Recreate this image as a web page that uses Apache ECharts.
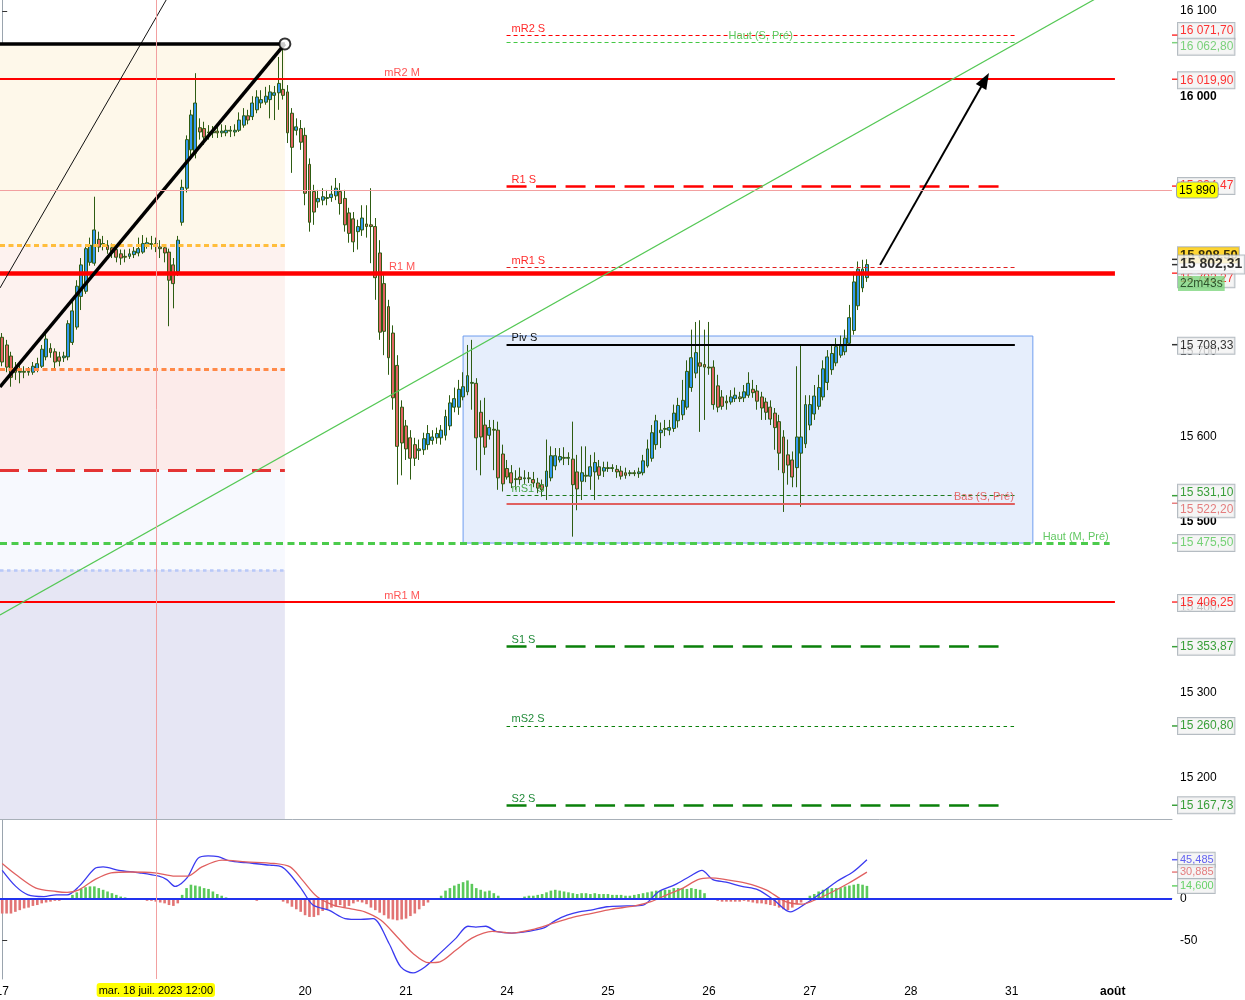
<!DOCTYPE html>
<html><head><meta charset="utf-8">
<script src="https://cdn.jsdelivr.net/npm/echarts@6/dist/echarts.min.js"></script>
<style>html,body{margin:0;padding:0;background:#fff;}#c{width:1245px;height:1000px;}</style>
</head><body><div id="c"></div>
<script>
// ---------- DATA ----------
const dayLabels = ['17','18','19','20','21','24','25','26','27','28','31','août'];
const candlesPerDay = 23;
const slotCount = 267;
// [open, close, low, high] hourly candles, 17 -> 27 juil.
const candles = [
[15717,15688,15683,15722],[15708,15682,15676,15714],[15695,15670,15659,15700],[15679,15676,15667,15688],[15676,15677,15663,15686],[15677,15676,15669,15683],[15676,15677,15672,15682],[15676,15683,15673,15688],[15680,15686,15676,15693],[15683,15703,15681,15708],[15694,15715,15690,15726],[15704,15699,15693,15710],[15700,15688,15681,15704],[15694,15689,15683,15700],[15693,15695,15688,15700],[15694,15733,15690,15737],[15711,15748,15708,15761],[15729,15777,15726,15784],[15765,15802,15749,15810],[15771,15821,15768,15825],[15805,15825,15801,15834],[15804,15843,15801,15882],[15832,15823,15817,15841],
[15826,15827,15819,15836],[15825,15820,15815,15831],[15822,15817,15810,15827],[15820,15811,15805,15824],[15815,15810,15802,15820],[15812,15811,15805,15820],[15812,15815,15809,15821],[15814,15818,15810,15823],[15816,15821,15812,15834],[15817,15827,15815,15837],[15825,15828,15821,15834],[15827,15826,15820,15836],[15827,15824,15817,15834],[15823,15821,15810,15831],[15822,15816,15805,15825],[15817,15784,15730,15821],[15802,15780,15751,15810],[15794,15831,15789,15836],[15852,15893,15848,15902],[15892,15949,15887,15954],[15937,15978,15925,15984],[15933,15992,15927,16027],[15963,15958,15949,15974],
[15962,15952,15943,15970],[15958,15957,15949,15966],[15957,15958,15951,15965],[15959,15957,15951,15964],[15957,15959,15952,15967],[15957,15960,15953,15966],[15959,15960,15952,15965],[15958,15960,15953,15967],[15960,15972,15958,15981],[15966,15977,15963,15986],[15977,15972,15967,15984],[15976,15992,15972,16000],[15984,15999,15980,16007],[15992,15996,15986,16007],[15993,16000,15990,16011],[15996,16005,15974,16013],[16001,16004,15972,16012],[16004,16015,15984,16046],[16008,16001,15996,16062],[16005,15957,15945,16013],[15980,15940,15910,15986],[15960,15964,15954,15974],[15962,15946,15937,15972],
[15954,15886,15872,15963],[15920,15852,15841,15927],[15888,15864,15849,15896],[15876,15880,15869,15890],[15878,15882,15872,15892],[15880,15881,15872,15890],[15881,15885,15876,15895],[15883,15892,15878,15904],[15888,15874,15861,15898],[15880,15849,15841,15890],[15863,15839,15828,15869],[15856,15829,15817,15864],[15841,15847,15820,15855],[15843,15857,15836,15872],[15850,15847,15834,15872],[15849,15847,15804,15892],[15847,15787,15761,15857],[15816,15723,15714,15831],[15780,15724,15696,15790],[15753,15693,15673,15761],[15722,15646,15632,15731],[15684,15589,15544,15696],[15635,15593,15555,15643],
[15613,15586,15573,15620],[15599,15575,15550,15608],[15591,15575,15566,15599],[15584,15586,15573,15597],[15585,15598,15579,15605],[15591,15604,15585,15614],[15596,15600,15591,15608],[15599,15604,15592,15611],[15599,15608,15591,15614],[15602,15624,15596,15632],[15613,15640,15608,15649],[15635,15645,15629,15658],[15635,15656,15626,15667],[15647,15659,15643,15676],[15653,15672,15649,15708],[15663,15664,15632,15714],[15663,15599,15561,15669],[15629,15600,15555,15643],[15614,15588,15579,15646],[15602,15611,15597,15620],[15609,15608,15561,15620],[15608,15552,15538,15618],[15580,15545,15536,15591],
[15563,15553,15550,15573],[15558,15546,15540,15567],[15551,15550,15538,15561],[15553,15550,15544,15564],[15551,15552,15545,15561],[15552,15551,15546,15559],[15550,15546,15541,15559],[15546,15540,15534,15552],[15544,15538,15530,15550],[15542,15560,15526,15597],[15552,15578,15548,15589],[15566,15578,15561,15587],[15573,15577,15570,15587],[15576,15575,15567,15588],[15575,15576,15567,15582],[15574,15544,15483,15618],[15559,15539,15514,15579],[15548,15558,15526,15589],[15555,15554,15547,15589],[15554,15565,15538,15579],[15559,15570,15526,15582],[15565,15555,15550,15573],[15560,15564,15553,15571],
[15564,15563,15559,15571],[15563,15564,15559,15568],[15562,15559,15552,15567],[15560,15554,15550,15566],[15558,15555,15551,15564],[15557,15558,15554,15561],[15558,15557,15554,15561],[15557,15559,15552,15564],[15558,15572,15555,15579],[15566,15586,15564,15597],[15575,15605,15571,15614],[15591,15619,15585,15626],[15605,15608,15587,15617],[15609,15610,15601,15620],[15608,15611,15602,15620],[15610,15628,15606,15638],[15619,15637,15611,15646],[15626,15643,15620,15667],[15635,15677,15632,15690],[15658,15693,15653,15726],[15675,15699,15669,15735],[15687,15683,15606,15737],[15685,15682,15620,15726],
[15682,15681,15673,15735],[15682,15638,15632,15690],[15660,15635,15629,15673],[15647,15636,15632,15655],[15642,15640,15632,15649],[15641,15647,15638,15655],[15645,15649,15641,15658],[15647,15645,15641,15653],[15646,15653,15641,15661],[15649,15663,15646,15676],[15656,15652,15646,15667],[15654,15642,15632,15661],[15647,15634,15620,15653],[15641,15629,15620,15646],[15635,15621,15614,15643],[15628,15611,15585,15634],[15618,15581,15561,15626],[15600,15558,15512,15608],[15579,15567,15544,15597],[15573,15553,15541,15583],[15564,15600,15541,15683],[15581,15600,15518,15709],[15592,15638,15587,15649],
[15614,15638,15608,15649],[15627,15648,15620,15661],[15636,15658,15632,15673],[15647,15680,15643,15690],[15664,15694,15655,15702],[15679,15698,15673,15708],[15687,15706,15683,15716],[15696,15707,15693,15719],[15700,15716,15696,15726],[15710,15740,15708,15755],[15725,15782,15720,15794],[15754,15797,15749,15806],[15775,15797,15770,15808],[15787,15802.31,15782,15808.5]
];
const histogram = [
-18,-18,-18,-16,-14,-12,-11,-9,-8,-6,-5,-4,-3,-3,-2,-1,
4,7,11,13,14,14,12,10,8,6,4,2,
1,-1,-2,-2,-2,-3,-3,-4,-5,-6,-8,-9,-6,
4,12,16,15,14,12,11,8,5,3,1,
-1,-2,-2,-1,-1,-2,-3,-2,-2,-2,-1,-2,
-4,-6,-10,-13,-16,-20,-22,-22,-20,-15,-13,-11,-10,-8,-11,-9,-6,-4,-5,-7,
-11,-14,-17,-20,-24,-25,-26,-25,-24,-21,-18,-13,-9,-5,-2,0,
3,9,12,15,17,19,21,17,12,10,8,9,6,3,
-1,-2,-2,-1,-1,
2,3,3,4,5,7,9,10,9,8,7,6,5,6,6,5,6,5,5,5,4,4,4,3,3,4,
5,6,7,8,9,9,10,10,12,12,12,11,12,11,10,6,
-1,-2,-3,-4,-4,-4,-4,-4,-3,-4,-5,-6,-6,-7,-8,-9,-11,-13,-14,-11,-7,-5,-1,
3,5,8,10,12,12,12,12,14,15,16,17,16,14.6
];
const macdPts = [[0,33],[3.1,14],[5.9,4],[9.5,2],[12.3,4],[14.8,4],[17.5,14],[21.1,35],[23,37],[26.6,33],[31.2,30],[35.7,26],[37.5,22],[39.4,14],[42.1,24],[44.6,47],[46.9,50],[49.2,49],[51.9,44],[55.5,42],[61,39],[63.7,37],[65.6,28],[68.3,10],[70.8,-8],[74.4,-14],[78.1,-24],[81.7,-25],[84.5,-24],[88.1,-53],[90.8,-81],[93.6,-88],[96.3,-81],[99.7,-65],[103.4,-47],[106.1,-33],[107.9,-34],[110.2,-33],[112.5,-39],[116.1,-41],[119.8,-39],[123.4,-35],[126.1,-26],[128.7,-20],[131.4,-16],[134.1,-14],[137.8,-10],[142.3,-9],[146,-8],[149.6,8],[153.3,16],[156.7,26],[159.4,33],[161.9,22],[164.9,19],[168.5,14],[172.2,10],[175.8,-2],[179.5,-16],[183.1,-6],[186.5,6],[190.2,20],[193.8,31],[197,45.485]];
const signalPts = [[0,41],[3.1,28],[7.7,12],[12.3,8],[14.8,7],[17.5,10],[21.1,22],[24.8,30],[29.3,31],[34.8,30],[39.4,26],[42.1,26],[45.5,37],[50.1,45],[55.5,43],[61.9,41],[65.6,37],[68.3,22],[71.7,2],[75.4,-8],[79,-12],[82.6,-16],[86.3,-26],[89.9,-45],[93.6,-65],[97.2,-76],[99.7,-75],[103.4,-61],[107,-47],[111.6,-39],[116.1,-41],[120.7,-37],[125.2,-30],[129.6,-23],[134.1,-18],[138.7,-13],[144.1,-9],[147.8,-4],[151.4,4],[155.1,12],[158.5,22],[161.2,24],[164.9,22],[169.4,18],[174,10],[178.5,-4],[182.2,-7],[185.6,-1],[189.3,8],[192.9,18],[197,30.885]];
const priceTicks = [15200,15300,15400,15500,15600,15700,15800,15900,16000,16100];
const priceTickLabels = [15200,15300,15400,15500,15600,15700,16000,16100];
const macdTicks = [-50,0];
const priceRange = [15151.6, 16112.9];
const macdRange = [-95.2, 92.3];
// pivot levels
const levelNames = ['mR2 S','Haut (S, Pré)','mR2 M','R1 S','mR1 S','R1 M','Piv S','mS1 S','Bas (S, Pré)','Haut (M, Pré)','mR1 M','S1 S','mS2 S','S2 S'];
const levelValues = [16071.70,16062.80,16019.90,15894.47,15799.48,15792.27,15708.33,15531.10,15522.20,15475.50,15406.25,15353.87,15260.80,15167.73];
const levelSpans = [[114.9,230.7],[114.9,230.7],[-0.5,253.5],[114.9,229.1],[114.9,230.7],[-0.5,253.5],[114.9,230.7],[114.9,230.7],[114.9,230.7],[-0.5,252.3],[-0.5,253.5],[114.9,229.1],[114.9,230.7],[114.9,229.1]];
// monthly zones on the left
const zoneBounds = [16061.3,15825.4,15679.8,15561.3,15443.9,15151.6];
const zoneEnd = 64.4;
// drawings
const thinTrend = [[-0.5,15774.9],[40.5,16141]];
const thickTrend = [[-0.5,15658.7],[64.4,16061.3]];
const topLine = [[-0.5,16061.3],[64.4,16061.3]];
const greenTrend = [[-0.5,15391.1],[250.1,16117.3]];
const arrowPts = [[200,15802],[223.9,16019]];
const rangeBox = [[105,15718.5],[234.8,15475.5]];
// right-axis tags
const tagValues = [16071.70,16062.80,16019.90,15894.47,15792.27,15708.33,15531.10,15522.20,15475.50,15406.25,15353.87,15260.80,15167.73];
const lastPrice = 15802.31;
const askPrice = 15808.50;
const countdown = '22m43s';
const crosshairIndex = 35;
const crosshairPrice = 15890;
const crosshairTime = 'mar. 18 juil. 2023 12:00';
const macdTags = [45.485, 30.885, 14.600];

// ---------- STYLE / BUILD ----------
const FONT = 'Liberation Sans, Arial, sans-serif';
const xMax = slotCount - 0.5;
const grpNum = (s) => s.replace(/\B(?=(\d{3})+(?!\d))/g, ' ');
const fmtPrice = (v, dec) => { const s = v.toFixed(dec).split('.'); return grpNum(s[0]) + (s[1] ? ',' + s[1] : ''); };

const categories = [];
dayLabels.forEach(d => { for (let h = 0; h < candlesPerDay; h++) categories.push(d + '|' + h); });
categories.length = slotCount;

const RED = '#FF0000', DKGREEN = '#0A800A', LTGREEN = '#4CCB4C';
const levelStyle = {
  'mR2 S': {c: RED, w: 1, t: [4,3], lc: '#FF2A2A', pos: 'insideStartTop'},
  'Haut (S, Pré)': {c: '#44C844', w: 1, t: [4,3], lc: '#5CC85C', pos: 'insideMiddleTop'},
  'mR2 M': {c: RED, w: 2, t: 'solid', lc: '#FF2A2A', pos: null},
  'R1 S': {c: RED, w: 2.5, t: [20,9.5], lc: '#FF2A2A', pos: 'insideStartTop'},
  'mR1 S': {c: '#E02020', w: 1, t: [4,3], lc: '#FF2A2A', pos: 'insideStartTop'},
  'R1 M': {c: RED, w: 4.5, t: 'solid', lc: '#FF2A2A', pos: null},
  'Piv S': {c: '#000000', w: 2, t: 'solid', lc: '#111111', pos: 'insideStartTop'},
  'mS1 S': {c: '#1E7A1E', w: 1, t: [4,3], lc: '#4AA84A', pos: 'insideStartTop'},
  'Bas (S, Pré)': {c: '#E06060', w: 2, t: 'solid', lc: '#E46A6A', pos: 'insideEndTop'},
  'Haut (M, Pré)': {c: LTGREEN, w: 3, t: [7,4.5], lc: '#62C862', pos: 'insideEndTop'},
  'mR1 M': {c: RED, w: 2, t: 'solid', lc: '#FF2A2A', pos: null},
  'S1 S': {c: DKGREEN, w: 2.5, t: [20,9.5], lc: '#228B3A', pos: 'insideStartTop'},
  'mS2 S': {c: DKGREEN, w: 1, t: [3.5,3.5], lc: '#228B3A', pos: 'insideStartTop'},
  'S2 S': {c: DKGREEN, w: 2.5, t: [20,9.5], lc: '#228B3A', pos: 'insideStartTop'}
};
const monthlyLabelAt = 91.1;

const zoneColors = ['#FEF8EA','#FDF2EF','#FCEBEA','#F7F9FE','#E6E6F4'];
const zoneLineStyles = [
  {color: '#FFBE3C', width: 3, type: [5,3.5]},
  {color: '#FF8A48', width: 3, type: [5,3.5]},
  {color: '#E43434', width: 3, type: [19,9]},
  {color: '#B8C8F8', width: 2.5, type: [3.5,3.5]}
];

const markLineData = [];
levelNames.forEach((n, k) => {
  const st = levelStyle[n];
  markLineData.push([
    {coord: [levelSpans[k][0], levelValues[k]], name: n,
     lineStyle: {color: st.c, width: st.w, type: st.t},
     label: st.pos ? {show: true, position: st.pos, formatter: n, color: st.lc, fontSize: 11, fontFamily: FONT, distance: 1, padding: st.pos === 'insideStartTop' ? [0,0,0,4] : [0,0,0,0]} : {show: false}},
    {coord: [levelSpans[k][1], levelValues[k]]}
  ]);
});
for (let k = 1; k <= 4; k++) {
  markLineData.push([
    {coord: [-0.5, zoneBounds[k]], lineStyle: zoneLineStyles[k-1], label: {show: false}},
    {coord: [zoneEnd, zoneBounds[k]]}
  ]);
}

const zoneAreas = [];
for (let k = 0; k < 5; k++) {
  zoneAreas.push([{coord: [-0.5, zoneBounds[k]], itemStyle: {color: zoneColors[k]}}, {coord: [zoneEnd, zoneBounds[k+1]]}]);
}

const tagColors = [RED, '#5CC85C', RED, RED, RED, '#000000', '#0A8A0A', '#E06060', '#55C855', RED, '#0A8A0A', '#0A8A0A', '#0A8A0A'];
const tagNudge = [-4, 4, 1, 0, 6, 1, -3, 6, 0, 1, 0, 0, 0];
const tagBox = {backgroundColor: '#F2F2F2', borderColor: '#A2ABB3', borderWidth: 1, padding: [2,1,1,2], fontSize: 12, fontFamily: FONT, lineHeight: 13};
const tagItems = tagValues.map((v, k) => ({
  value: [xMax, v],
  itemStyle: {color: tagColors[k]},
  label: Object.assign({show: true, position: 'right', distance: 0, formatter: fmtPrice(v, 2), color: tagColors[k], offset: [0, tagNudge[k]]}, tagBox)
}));

const monthlyLabels = levelNames.map((n, k) => ({n, k})).filter(o => levelStyle[o.n].pos === null)
  .map(o => ({name: o.n, value: [monthlyLabelAt, levelValues[o.k]]}));

const macdTagColors = ['#3A3AF0', '#E06060', '#44C844'];
const macdTagItems = macdTags.map((v, k) => ({
  value: [xMax, v],
  itemStyle: {color: macdTagColors[k]},
  label: Object.assign({}, tagBox, {show: true, position: 'right', distance: 0, formatter: v.toFixed(3).replace('.', ','), color: macdTagColors[k], fontSize: 11, padding: [1,1,0,2]})
}));

const pointerLine = {color: '#F2A0A0', width: 1, type: 'solid'};

const chart = echarts.init(document.getElementById('c'), null, {renderer: 'canvas'});
chart.setOption({
  animation: false,
  backgroundColor: '#ffffff',
  textStyle: {fontFamily: FONT},
  grid: [
    {left: 0, right: 73, top: 0, height: 819, outerBoundsMode: 'none', containLabel: false},
    {left: 0, right: 73, top: 820, height: 159, outerBoundsMode: 'none', containLabel: false}
  ],
  xAxis: [
    {type: 'category', gridIndex: 0, data: categories, boundaryGap: true,
     axisLine: {show: true, lineStyle: {color: '#A8B0B8', width: 1}}, axisTick: {show: false}, axisLabel: {show: false}, splitLine: {show: false},
     axisPointer: {show: true, type: 'line', value: crosshairIndex, status: 'show', snap: true, triggerTooltip: false, lineStyle: pointerLine, label: {show: false}}},
    {type: 'category', gridIndex: 1, data: categories, boundaryGap: true,
     axisLine: {show: true, lineStyle: {color: '#A8B0B8', width: 1}}, axisTick: {show: false}, splitLine: {show: false},
     axisLabel: {show: true, interval: (i) => i % candlesPerDay === 0, hideOverlap: false, margin: 7, fontSize: 12, color: '#000', fontFamily: FONT,
       formatter: (v) => { const d = v.split('|')[0]; return d === 'août' ? '{m|' + d + '}' : d; }, rich: {m: {fontWeight: 'bold', fontSize: 12, color: '#000'}}},
     axisPointer: {show: true, type: 'line', value: crosshairIndex, status: 'show', snap: true, triggerTooltip: false, lineStyle: pointerLine,
       label: {show: true, formatter: () => crosshairTime, backgroundColor: '#FFFF00', color: '#000', fontSize: 11, fontFamily: FONT, padding: [2,2,1,2], borderWidth: 0, margin: 4}}},
    {type: 'value', gridIndex: 0, min: -0.5, max: xMax, show: false, position: 'top'},
    {type: 'value', gridIndex: 1, min: -0.5, max: xMax, show: false, position: 'top'}
  ],
  yAxis: [
    {type: 'value', gridIndex: 0, position: 'right', min: priceRange[0], max: priceRange[1], scale: true,
     axisLine: {show: true, lineStyle: {color: '#9AA4AE'}}, splitLine: {show: false},
     axisTick: {show: true, customValues: priceTicks, length: 5, inside: false, lineStyle: {color: '#333'}},
     axisLabel: {show: true, customValues: priceTickLabels, margin: 8, fontSize: 12, color: '#000', fontFamily: FONT,
       formatter: (v) => (v % 500 === 0 ? '{b|' + fmtPrice(v, 0) + '}' : fmtPrice(v, 0)), rich: {b: {fontWeight: 'bold', fontSize: 12, color: '#000'}}},
     axisPointer: {show: true, type: 'line', value: crosshairPrice, status: 'show', snap: false, triggerTooltip: false, lineStyle: pointerLine,
       label: {show: true, formatter: () => fmtPrice(crosshairPrice, 0), backgroundColor: '#FFFF00', color: '#000', fontSize: 12, fontFamily: FONT, padding: [2,2,1,2], borderColor: '#9AA4AE', borderWidth: 1, margin: 5}}},
    {type: 'value', gridIndex: 1, position: 'right', min: macdRange[0], max: macdRange[1], scale: true,
     axisLine: {show: true, lineStyle: {color: '#9AA4AE'}}, splitLine: {show: false},
     axisTick: {show: true, customValues: macdTicks, length: 5, lineStyle: {color: '#333'}},
     axisLabel: {show: true, customValues: macdTicks, margin: 8, fontSize: 12, color: '#000', fontFamily: FONT}}
  ],
  series: [
    {type: 'line', name: 'zones', xAxisIndex: 2, yAxisIndex: 0, data: [], z: 0, silent: true,
     markArea: {silent: true, data: zoneAreas}},
    {type: 'line', name: 'range', xAxisIndex: 2, yAxisIndex: 0, data: [], z: 1, silent: true,
     markArea: {silent: true, itemStyle: {color: '#E6EEFC', borderColor: '#6E9DF0', borderWidth: 1},
       data: [[{coord: rangeBox[0]}, {coord: rangeBox[1]}]]}},
    {type: 'candlestick', name: 'DAX', xAxisIndex: 0, yAxisIndex: 0, data: candles, z: 3, barWidth: 3.4,
     itemStyle: {color: '#3399EE', color0: '#E06464', borderColor: '#2E5C12', borderColor0: '#2E5C12', borderColorDoji: '#2E5C12', borderWidth: 1}},
    {type: 'line', name: 'levels', xAxisIndex: 2, yAxisIndex: 0, data: [], z: 4, silent: true,
     markLine: {silent: true, symbol: ['none','none'], animation: false, data: markLineData}},
    {type: 'scatter', name: 'monthlyLabels', xAxisIndex: 2, yAxisIndex: 0, data: monthlyLabels, symbolSize: 0, z: 4, silent: true,
     label: {show: true, position: 'top', distance: 1, formatter: '{b}', color: '#FF2A2A', fontSize: 11, fontFamily: FONT}},
    {type: 'line', name: 'greenTrend', xAxisIndex: 2, yAxisIndex: 0, data: greenTrend, showSymbol: false, z: 5, silent: true,
     lineStyle: {color: '#55C855', width: 1.2}},
    {type: 'line', name: 'thinTrend', xAxisIndex: 2, yAxisIndex: 0, data: thinTrend, showSymbol: false, z: 5, silent: true,
     lineStyle: {color: '#111', width: 1}},
    {type: 'line', name: 'thickTrend', xAxisIndex: 2, yAxisIndex: 0, data: thickTrend, showSymbol: false, z: 5, silent: true,
     lineStyle: {color: '#000', width: 3.5}},
    {type: 'line', name: 'topLine', xAxisIndex: 2, yAxisIndex: 0, data: topLine, showSymbol: false, z: 5, silent: true,
     lineStyle: {color: '#000', width: 3.5}},
    {type: 'scatter', name: 'peak', xAxisIndex: 2, yAxisIndex: 0, data: [topLine[1]], symbol: 'circle', symbolSize: 11, z: 6, silent: true,
     itemStyle: {color: '#fff', borderColor: '#000', borderWidth: 2}},
    {type: 'line', name: 'arrow', xAxisIndex: 2, yAxisIndex: 0, data: [], z: 6, silent: true,
     markLine: {silent: true, symbol: ['none','triangle'], symbolSize: [12, 16], label: {show: false},
       lineStyle: {color: '#000', width: 2, type: 'solid'}, data: [[{coord: arrowPts[0]}, {coord: arrowPts[1]}]]}},
    {type: 'scatter', name: 'tags', xAxisIndex: 2, yAxisIndex: 0, data: tagItems, symbol: 'rect', symbolSize: [6, 1.5], symbolOffset: [3, 0], clip: false, z: 10, silent: true},
    {type: 'scatter', name: 'ask', xAxisIndex: 2, yAxisIndex: 0, clip: false, z: 11, silent: true, symbol: 'rect', symbolSize: [6, 1.5], symbolOffset: [3, 0],
     itemStyle: {color: '#000'},
     data: [{value: [xMax, askPrice], label: Object.assign({}, tagBox, {show: true, position: 'right', distance: 0, formatter: fmtPrice(askPrice, 2), color: '#000', fontWeight: 'bold', fontSize: 13, backgroundColor: '#FFCC00', offset: [0, -4]})}]},
    {type: 'scatter', name: 'last', xAxisIndex: 2, yAxisIndex: 0, clip: false, z: 12, silent: true, symbol: 'rect', symbolSize: [6, 1.5], symbolOffset: [3, 0],
     itemStyle: {color: '#000'},
     data: [{value: [xMax, lastPrice], label: Object.assign({}, tagBox, {show: true, position: 'right', distance: 0, formatter: fmtPrice(lastPrice, 2), color: '#000', fontWeight: 'bold', fontSize: 14, lineHeight: 15, backgroundColor: '#FAFAFA', padding: [2,2,1,2]})}]},
    {type: 'scatter', name: 'countdown', xAxisIndex: 2, yAxisIndex: 0, clip: false, z: 13, silent: true, symbolSize: 0,
     data: [{value: [xMax, lastPrice], label: {show: true, position: 'right', distance: 6, formatter: countdown, color: '#103010', fontSize: 12, fontFamily: FONT, backgroundColor: '#7ED67E', padding: [2,2,1,2], offset: [0, 19]}}]},
    {type: 'bar', name: 'MACD hist', xAxisIndex: 1, yAxisIndex: 1, data: histogram, barWidth: 2.6, z: 2, silent: true,
     itemStyle: {color: (p) => (p.value >= 0 ? '#5BC85B' : '#E27474')},
     markLine: {silent: true, symbol: ['none','none'], label: {show: false}, lineStyle: {color: '#2233EE', width: 2, type: 'solid'}, data: [{yAxis: 0}]}},
    {type: 'line', name: 'MACD', xAxisIndex: 3, yAxisIndex: 1, data: macdPts, showSymbol: false, smooth: 0.3, z: 4, silent: true,
     lineStyle: {color: '#3A3AF0', width: 1.3}},
    {type: 'line', name: 'Signal', xAxisIndex: 3, yAxisIndex: 1, data: signalPts, showSymbol: false, smooth: 0.3, z: 4, silent: true,
     lineStyle: {color: '#E06060', width: 1.3}},
    {type: 'scatter', name: 'macdTags', xAxisIndex: 3, yAxisIndex: 1, data: macdTagItems, symbol: 'rect', symbolSize: [6, 1.5], symbolOffset: [3, 0], clip: false, z: 10, silent: true}
  ]
});
</script>
</body></html>
